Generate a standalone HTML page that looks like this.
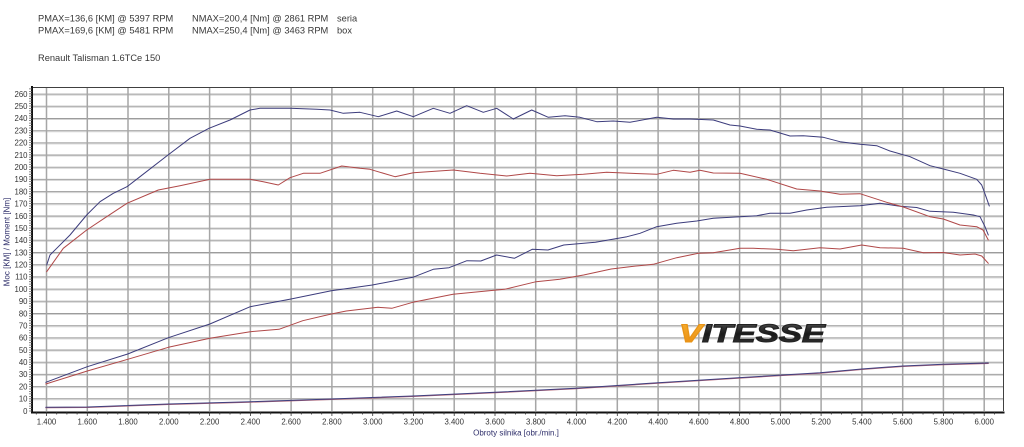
<!DOCTYPE html>
<html><head><meta charset="utf-8"><style>
html,body{margin:0;padding:0;background:#fff;}
svg{display:block;}
text{font-family:"Liberation Sans",Arial,sans-serif;}
</style></head><body>
<svg width="1024" height="447" viewBox="0 0 1024 447" xmlns="http://www.w3.org/2000/svg">
<rect width="1024" height="447" fill="#fff"/>
<!-- header -->
<g font-size="9.3" fill="#383838">
<text x="38" y="21.5">PMAX=136,6 [KM] @ 5397 RPM</text>
<text x="38" y="33.5">PMAX=169,6 [KM] @ 5481 RPM</text>
<text x="192" y="21.5">NMAX=200,4 [Nm] @ 2861 RPM</text>
<text x="192" y="33.5">NMAX=250,4 [Nm] @ 3463 RPM</text>
<text x="337" y="21.5">seria</text>
<text x="337" y="33.5">box</text>
<text x="38" y="61">Renault Talisman 1.6TCe 150</text>
</g>
<!-- horizontal grid -->
<g id="hg">
<g stroke="#9c9c9c" stroke-width="1">
<path d="M32 398.8H1004M32 386.6H1004M32 374.4H1004M32 362.2H1004M32 350H1004M32 337.9H1004M32 325.7H1004M32 313.5H1004M32 301.3H1004M32 289.1H1004M32 276.9H1004M32 264.7H1004M32 252.5H1004M32 240.3H1004M32 228.3H1004M32 216H1004M32 203.8H1004M32 191.6H1004M32 179.4H1004M32 167.2H1004M32 155H1004M32 142.9H1004M32 130.7H1004M32 118.5H1004M32 106.3H1004M32 94.1H1004"/>
</g>
<g stroke="#d4d4d4" stroke-width="1">
<path d="M32 399.8H1004M32 387.6H1004M32 375.4H1004M32 363.2H1004M32 351H1004M32 338.9H1004M32 326.7H1004M32 314.5H1004M32 302.3H1004M32 290.1H1004M32 277.9H1004M32 265.7H1004M32 253.5H1004M32 241.3H1004M32 229.3H1004M32 217H1004M32 204.8H1004M32 192.6H1004M32 180.4H1004M32 168.2H1004M32 156H1004M32 143.9H1004M32 131.7H1004M32 119.5H1004M32 107.3H1004M32 95.1H1004"/>
</g>
</g>
<!-- vertical grid -->
<g stroke="#a6a6a6" stroke-width="1.5">
<path d="M46.5 87V411M87.3 87V411M128 87V411M168.8 87V411M209.6 87V411M250.4 87V411M291.1 87V411M331.9 87V411M372.7 87V411M413.4 87V411M454.2 87V411M495 87V411M535.7 87V411M576.5 87V411M617.3 87V411M658.1 87V411M698.8 87V411M739.6 87V411M780.4 87V411M821.1 87V411M861.9 87V411M902.7 87V411M943.4 87V411M984.2 87V411"/>
</g>
<!-- frame -->
<path d="M32 87.5H1003.5V411" fill="none" stroke="#404040" stroke-width="1"/>
<path d="M32 86V412.5H1004.5" fill="none" stroke="#111" stroke-width="2"/>
<!-- left minor ticks every 2 units -->
<g stroke="#666" stroke-width="0.8">
<path d="M29 411H32M29 408.6H32M29 406.1H32M29 403.7H32M29 401.2H32M29 398.8H32M29 396.4H32M29 393.9H32M29 391.5H32M29 389H32M29 386.6H32M29 384.2H32M29 381.7H32M29 379.3H32M29 376.8H32M29 374.4H32M29 372H32M29 369.5H32M29 367.1H32M29 364.6H32M29 362.2H32M29 359.8H32M29 357.3H32M29 354.9H32M29 352.4H32M29 350H32M29 347.6H32M29 345.1H32M29 342.7H32M29 340.2H32M29 337.8H32M29 335.4H32M29 332.9H32M29 330.5H32M29 328H32M29 325.6H32M29 323.2H32M29 320.7H32M29 318.3H32M29 315.8H32M29 313.4H32M29 311H32M29 308.5H32M29 306.1H32M29 303.6H32M29 301.2H32M29 298.8H32M29 296.3H32M29 293.9H32M29 291.4H32M29 289H32M29 286.6H32M29 284.1H32M29 281.7H32M29 279.2H32M29 276.8H32M29 274.4H32M29 271.9H32M29 269.5H32M29 267H32M29 264.6H32M29 262.2H32M29 259.7H32M29 257.3H32M29 254.8H32M29 252.4H32M29 250H32M29 247.5H32M29 245.1H32M29 242.6H32M29 240.2H32M29 237.8H32M29 235.3H32M29 232.9H32M29 230.4H32M29 228H32M29 225.6H32M29 223.1H32M29 220.7H32M29 218.2H32M29 215.8H32M29 213.4H32M29 210.9H32M29 208.5H32M29 206H32M29 203.6H32M29 201.2H32M29 198.7H32M29 196.3H32M29 193.8H32M29 191.4H32M29 189H32M29 186.5H32M29 184.1H32M29 181.6H32M29 179.2H32M29 176.8H32M29 174.3H32M29 171.9H32M29 169.4H32M29 167H32M29 164.6H32M29 162.1H32M29 159.7H32M29 157.2H32M29 154.8H32M29 152.4H32M29 149.9H32M29 147.5H32M29 145H32M29 142.6H32M29 140.2H32M29 137.7H32M29 135.3H32M29 132.8H32M29 130.4H32M29 128H32M29 125.5H32M29 123.1H32M29 120.6H32M29 118.2H32M29 115.8H32M29 113.3H32M29 110.9H32M29 108.4H32M29 106H32M29 103.6H32M29 101.1H32M29 98.7H32M29 96.2H32M29 93.8H32M29 91.4H32M29 88.9H32"/>
</g>
<!-- bottom ticks every 50 rpm -->
<g stroke="#333" stroke-width="0.8">
<path d="M36.3 412V414.5M46.5 412V416M56.7 412V414.5M66.9 412V414.5M77.1 412V414.5M87.3 412V416M97.5 412V414.5M107.7 412V414.5M117.8 412V414.5M128 412V416M138.2 412V414.5M148.4 412V414.5M158.6 412V414.5M168.8 412V416M179 412V414.5M189.2 412V414.5M199.4 412V414.5M209.6 412V416M219.8 412V414.5M230 412V414.5M240.2 412V414.5M250.4 412V416M260.5 412V414.5M270.7 412V414.5M280.9 412V414.5M291.1 412V416M301.3 412V414.5M311.5 412V414.5M321.7 412V414.5M331.9 412V416M342.1 412V414.5M352.3 412V414.5M362.5 412V414.5M372.7 412V416M382.9 412V414.5M393 412V414.5M403.2 412V414.5M413.4 412V416M423.6 412V414.5M433.8 412V414.5M444 412V414.5M454.2 412V416M464.4 412V414.5M474.6 412V414.5M484.8 412V414.5M495 412V416M505.2 412V414.5M515.4 412V414.5M525.5 412V414.5M535.7 412V416M545.9 412V414.5M556.1 412V414.5M566.3 412V414.5M576.5 412V416M586.7 412V414.5M596.9 412V414.5M607.1 412V414.5M617.3 412V416M627.5 412V414.5M637.7 412V414.5M647.9 412V414.5M658.1 412V416M668.2 412V414.5M678.4 412V414.5M688.6 412V414.5M698.8 412V416M709 412V414.5M719.2 412V414.5M729.4 412V414.5M739.6 412V416M749.8 412V414.5M760 412V414.5M770.2 412V414.5M780.4 412V416M790.5 412V414.5M800.7 412V414.5M810.9 412V414.5M821.1 412V416M831.3 412V414.5M841.5 412V414.5M851.7 412V414.5M861.9 412V416M872.1 412V414.5M882.3 412V414.5M892.5 412V414.5M902.7 412V416M912.9 412V414.5M923 412V414.5M933.2 412V414.5M943.4 412V416M953.6 412V414.5M963.8 412V414.5M974 412V414.5M984.2 412V416M994.4 412V414.5"/>
</g>
<!-- y labels -->
<g font-size="7.8" fill="#333" text-anchor="end">
<text x="27.5" y="413.8">0</text>
<text x="27.5" y="401.6">10</text>
<text x="27.5" y="389.4">20</text>
<text x="27.5" y="377.2">30</text>
<text x="27.5" y="365">40</text>
<text x="27.5" y="352.8">50</text>
<text x="27.5" y="340.7">60</text>
<text x="27.5" y="328.5">70</text>
<text x="27.5" y="316.3">80</text>
<text x="27.5" y="304.1">90</text>
<text x="27.5" y="291.9">100</text>
<text x="27.5" y="279.7">110</text>
<text x="27.5" y="267.5">120</text>
<text x="27.5" y="255.3">130</text>
<text x="27.5" y="243.1">140</text>
<text x="27.5" y="231">150</text>
<text x="27.5" y="218.8">160</text>
<text x="27.5" y="206.6">170</text>
<text x="27.5" y="194.4">180</text>
<text x="27.5" y="182.2">190</text>
<text x="27.5" y="170">200</text>
<text x="27.5" y="157.8">210</text>
<text x="27.5" y="145.6">220</text>
<text x="27.5" y="133.4">230</text>
<text x="27.5" y="121.2">240</text>
<text x="27.5" y="109.1">250</text>
<text x="27.5" y="96.9">260</text>
</g>
<!-- x labels -->
<g font-size="7.8" fill="#333" text-anchor="middle">
<text x="46.5" y="424.5">1.400</text>
<text x="87.3" y="424.5">1.600</text>
<text x="128" y="424.5">1.800</text>
<text x="168.8" y="424.5">2.000</text>
<text x="209.6" y="424.5">2.200</text>
<text x="250.4" y="424.5">2.400</text>
<text x="291.1" y="424.5">2.600</text>
<text x="331.9" y="424.5">2.800</text>
<text x="372.7" y="424.5">3.000</text>
<text x="413.4" y="424.5">3.200</text>
<text x="454.2" y="424.5">3.400</text>
<text x="495" y="424.5">3.600</text>
<text x="535.7" y="424.5">3.800</text>
<text x="576.5" y="424.5">4.000</text>
<text x="617.3" y="424.5">4.200</text>
<text x="658.1" y="424.5">4.400</text>
<text x="698.8" y="424.5">4.600</text>
<text x="739.6" y="424.5">4.800</text>
<text x="780.4" y="424.5">5.000</text>
<text x="821.1" y="424.5">5.200</text>
<text x="861.9" y="424.5">5.400</text>
<text x="902.7" y="424.5">5.600</text>
<text x="943.4" y="424.5">5.800</text>
<text x="984.2" y="424.5">6.000</text>
</g>
<text x="516" y="435.5" font-size="8" fill="#2e2e6a" text-anchor="middle">Obroty silnika [obr./min.]</text>
<text transform="translate(9.5,242) rotate(-90)" font-size="8" fill="#2e2e6a" text-anchor="middle">Moc [KM] / Moment [Nm]</text>
<!-- logo -->
<defs>
<linearGradient id="lg" x1="0" y1="0" x2="0" y2="1">
<stop offset="0" stop-color="#555"/><stop offset="0.5" stop-color="#1a1a1a"/><stop offset="1" stop-color="#3a3a3a"/>
</linearGradient>
<linearGradient id="og" x1="0" y1="0" x2="0" y2="1">
<stop offset="0" stop-color="#f7b030"/><stop offset="1" stop-color="#e88a10"/>
</linearGradient>
</defs>
<text x="679" y="342" font-size="25" font-weight="bold" font-style="italic" textLength="146" lengthAdjust="spacingAndGlyphs" stroke-width="1"><tspan fill="url(#og)" stroke="#e89418">V</tspan><tspan fill="url(#lg)" stroke="#222">ITESSE</tspan></text>
<!-- curves -->
<g fill="none" stroke-width="1" stroke-linejoin="round" stroke-linecap="round">
<!-- loss curves -->
<polyline stroke="#b06070" stroke-width="1" points="45.8,407.8 87.3,407.5 168.4,404.5 250.2,402.2 331.3,399.5 412.8,396.5 495,392.8 575.7,388.8 650,383.8 740,378.1 820,373.2 861.7,369.5 902.7,366.5 943.3,364.8 988.3,363.5"/>
<polyline stroke="#404080" stroke-width="1" points="45.8,407.3 87.3,407 168.4,404 250.2,401.7 331.3,399 412.8,396 495,392.3 575.7,388.3 650,383.3 740,377.6 820,372.7 861.7,369 902.7,366 943.3,364.3 988.3,363"/>
<!-- red power -->
<polyline stroke="#b04848" points="45.8,384 87.3,371 127.7,359.3 168.4,347.3 209.9,338.3 250.2,331.7 279,329.3 302.8,320.7 331.3,314 346.3,311 378,307.3 391.8,308.3 412.8,302.3 453.1,294.3 504.5,289.3 536.1,281.7 559.8,279.3 583.6,275 611.2,269 638.9,265.7 653.3,264.3 676.7,257.7 698.3,253.3 713.3,252.7 740,248.3 753.3,248.3 776.7,249.3 793.3,250.7 820,247.7 840,249 861.7,245 880,247.7 903.3,248.3 923.3,252.7 943.3,252.5 960,255 975,254 981.7,256 988.3,263.3"/>
<!-- blue power -->
<polyline stroke="#3c3c7c" points="45.8,382.3 87.3,366.7 127.7,354 168.4,337.7 209.9,324 250.2,306.7 291,299 331.3,290.7 372.4,285 412.8,277.3 433.3,269.3 449,267.7 466.9,260.7 480.8,261 496.6,255 514.4,258.3 532.2,249.3 548,250 563.8,245 595.4,242.3 627,236.7 640,233.3 656.7,226.7 676.7,223.3 696.7,221 713.3,218.3 740,216.7 756.7,215.7 770,213.3 790,213.3 806.7,210 826.7,207.3 860,205.7 880,203.3 900,206.3 916.7,207.5 930,211.3 953.3,212.2 973.3,215 980,216.7 985,226.7 988.3,235"/>
<!-- red torque -->
<polyline stroke="#b04848" points="46.7,271.7 63.3,248.3 86.7,230 106.7,216.7 127,203.3 158.3,190 180,185.7 210,179.3 250,179.3 263.3,181.7 278.3,185 290,177.7 303.3,173.3 320,173.3 341.7,166 360,168.3 370,169.3 395,176.7 413.3,172.7 453.3,170 480,173.3 506.7,176 530,173.3 556.7,175.7 583.3,174.3 606.7,172.3 630,173.3 656.7,174.3 673.3,170.3 690,172.3 700,170.3 713.3,173 740,173.3 766.7,179.3 796.7,189 820,191 840,194.3 860,193.7 886.7,202.3 903.3,207 930,216.7 943.3,219 960,225 976.7,226.7 983,230 988.3,240"/>
<!-- blue torque -->
<polyline stroke="#3c3c7c" points="46.7,265 50,255 56.7,248.3 70,235 86.7,215 100,201.7 113.3,193.3 127,186.7 140,176.7 168,155 190,138.3 209,128.3 230,120 250,110 260,108.3 290,108.3 316.7,109.3 330,110 343.3,113.3 360,112.3 378.3,116.7 396.7,111 413.3,116.7 433.3,108.3 450,113.3 466.7,105.7 483.3,112.3 496.7,108.3 513.3,119 531.7,110 548.3,117.3 565,115.7 580,117.3 596.7,121.7 613.3,121 630,122.3 656.7,117.3 673.3,119 690,119 713.3,120 730,125 740,126 756.7,129.3 770,130 790,136 803.3,135.7 823.3,137.3 840,141.7 860,144.3 876.7,145.7 890,151 910,156.7 930,165.7 943.3,169 960,173.3 976.7,179.3 981.7,185 986,196.7 989.3,206"/>
</g>
</svg>
</body></html>
